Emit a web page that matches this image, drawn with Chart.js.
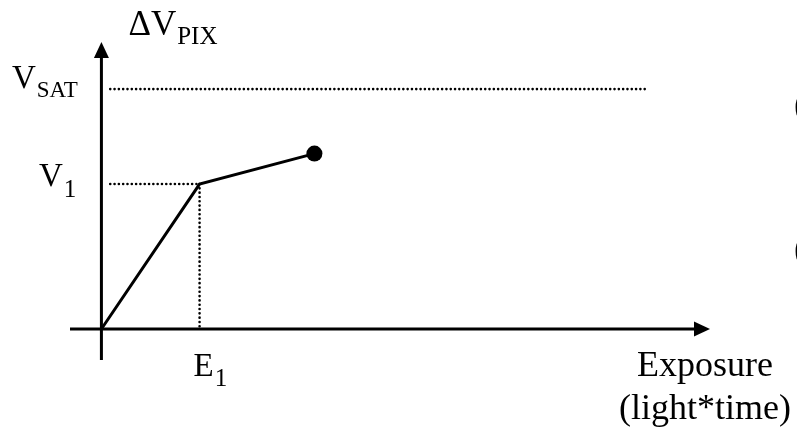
<!DOCTYPE html>
<html>
<head>
<meta charset="utf-8">
<script src="https://cdn.jsdelivr.net/npm/chart.js@4/dist/chart.umd.min.js"></script>
<style>
  html, body { margin: 0; padding: 0; background: #fff; }
  canvas { display: block; }
</style>
</head>
<body>
<canvas id="chart" width="797" height="427"></canvas>
<script>
// pixel response: exposure in units of E1, signal in units of V1
const exposure = [0, 1, 2.17];
const signal = [0, 1, 1.21];
const vSat = 1.655;
const refStart = 0.09;   // where the dotted guides begin, right of the y axis
const vSatEnd = 5.57;
const xRange = [-0.32, 6.2];
const yRange = [-0.214, 1.98];

const SERIF = '"Liberation Serif", "Times New Roman", serif';

const dotted = {
  borderColor: "#000",
  borderWidth: 2.6,
  borderDash: [0.01, 4.3],
  borderCapStyle: "round",
  pointRadius: 0,
  showLine: true,
  fill: false
};

function label(ctx, main, sub, x, y, size, subSize, subDrop) {
  ctx.font = size + "px " + SERIF;
  ctx.fillText(main, x, y);
  const w = ctx.measureText(main).width;
  if (sub) {
    ctx.font = subSize + "px " + SERIF;
    ctx.fillText(sub, x + w + 1, y + subDrop);
  }
}

const axesPlugin = {
  id: "axes",
  beforeDatasetsDraw(chart) {
    const ctx = chart.ctx;
    const xs = chart.scales.x, ys = chart.scales.y;
    const x0 = xs.getPixelForValue(0), y0 = ys.getPixelForValue(0);
    const left = xs.getPixelForValue(xRange[0]), right = xs.getPixelForValue(xRange[1]);
    const top = ys.getPixelForValue(yRange[1]), bottom = ys.getPixelForValue(yRange[0]);
    const head = 16, half = 7.5;
    ctx.save();
    ctx.strokeStyle = "#000";
    ctx.fillStyle = "#000";
    ctx.lineWidth = 3;
    ctx.beginPath();
    ctx.moveTo(left, y0);
    ctx.lineTo(right - head + 1, y0);
    ctx.moveTo(x0, bottom);
    ctx.lineTo(x0, top + head - 1);
    ctx.stroke();
    // arrow heads
    ctx.beginPath();
    ctx.moveTo(right, y0);
    ctx.lineTo(right - head, y0 - half);
    ctx.lineTo(right - head, y0 + half);
    ctx.closePath();
    ctx.fill();
    ctx.beginPath();
    ctx.moveTo(x0, top);
    ctx.lineTo(x0 - half, top + head);
    ctx.lineTo(x0 + half, top + head);
    ctx.closePath();
    ctx.fill();
    ctx.restore();
  },
  afterDatasetsDraw(chart) {
    const ctx = chart.ctx;
    const xs = chart.scales.x, ys = chart.scales.y;
    const x0 = xs.getPixelForValue(0);
    const y0 = ys.getPixelForValue(0);
    ctx.save();
    ctx.fillStyle = "#000";
    ctx.textBaseline = "alphabetic";
    ctx.textAlign = "left";
    label(ctx, "\u0394V", "PIX", x0 + 27, 35, 35, 25, 9);
    label(ctx, "V", "SAT", 12, ys.getPixelForValue(vSat) - 1, 33, 23, 9);
    label(ctx, "V", "1", 39, ys.getPixelForValue(signal[1]) + 2, 33, 25, 11);
    label(ctx, "E", "1", xs.getPixelForValue(exposure[1]) - 6, y0 + 47, 33, 25, 10);
    ctx.textAlign = "center";
    ctx.font = "36px " + SERIF;
    ctx.fillText("Exposure", 705, 376);
    ctx.fillText("(light*time)", 705, 419);
    // clipped labels at the right edge
    ctx.textAlign = "left";
    ctx.fillText("(", 794, 116);
    ctx.fillText("(", 794, 260);
    ctx.restore();
  }
};

new Chart(document.getElementById("chart"), {
  type: "scatter",
  data: {
    datasets: [
      {
        data: exposure.map((x, i) => ({ x: x, y: signal[i] })),
        showLine: true,
        borderColor: "#000",
        borderWidth: 3,
        backgroundColor: "#000",
        pointBackgroundColor: "#000",
        pointBorderWidth: 0,
        pointRadius: exposure.map((x, i) => (i === exposure.length - 1 ? 8 : 0)),
        fill: false
      },
      Object.assign({ data: [{ x: refStart, y: vSat }, { x: vSatEnd, y: vSat }] }, dotted),
      Object.assign({ data: [{ x: refStart, y: signal[1] }, { x: exposure[1], y: signal[1] }] }, dotted),
      Object.assign({ data: [{ x: exposure[1], y: signal[1] }, { x: exposure[1], y: 0 }] }, dotted)
    ]
  },
  options: {
    responsive: false,
    animation: false,
    layout: { padding: { left: 70, right: 87, top: 42, bottom: 67 } },
    plugins: { legend: { display: false }, tooltip: { enabled: false } },
    scales: {
      x: { type: "linear", min: xRange[0], max: xRange[1], display: false },
      y: { type: "linear", min: yRange[0], max: yRange[1], display: false }
    }
  },
  plugins: [axesPlugin]
});
</script>
</body>
</html>
